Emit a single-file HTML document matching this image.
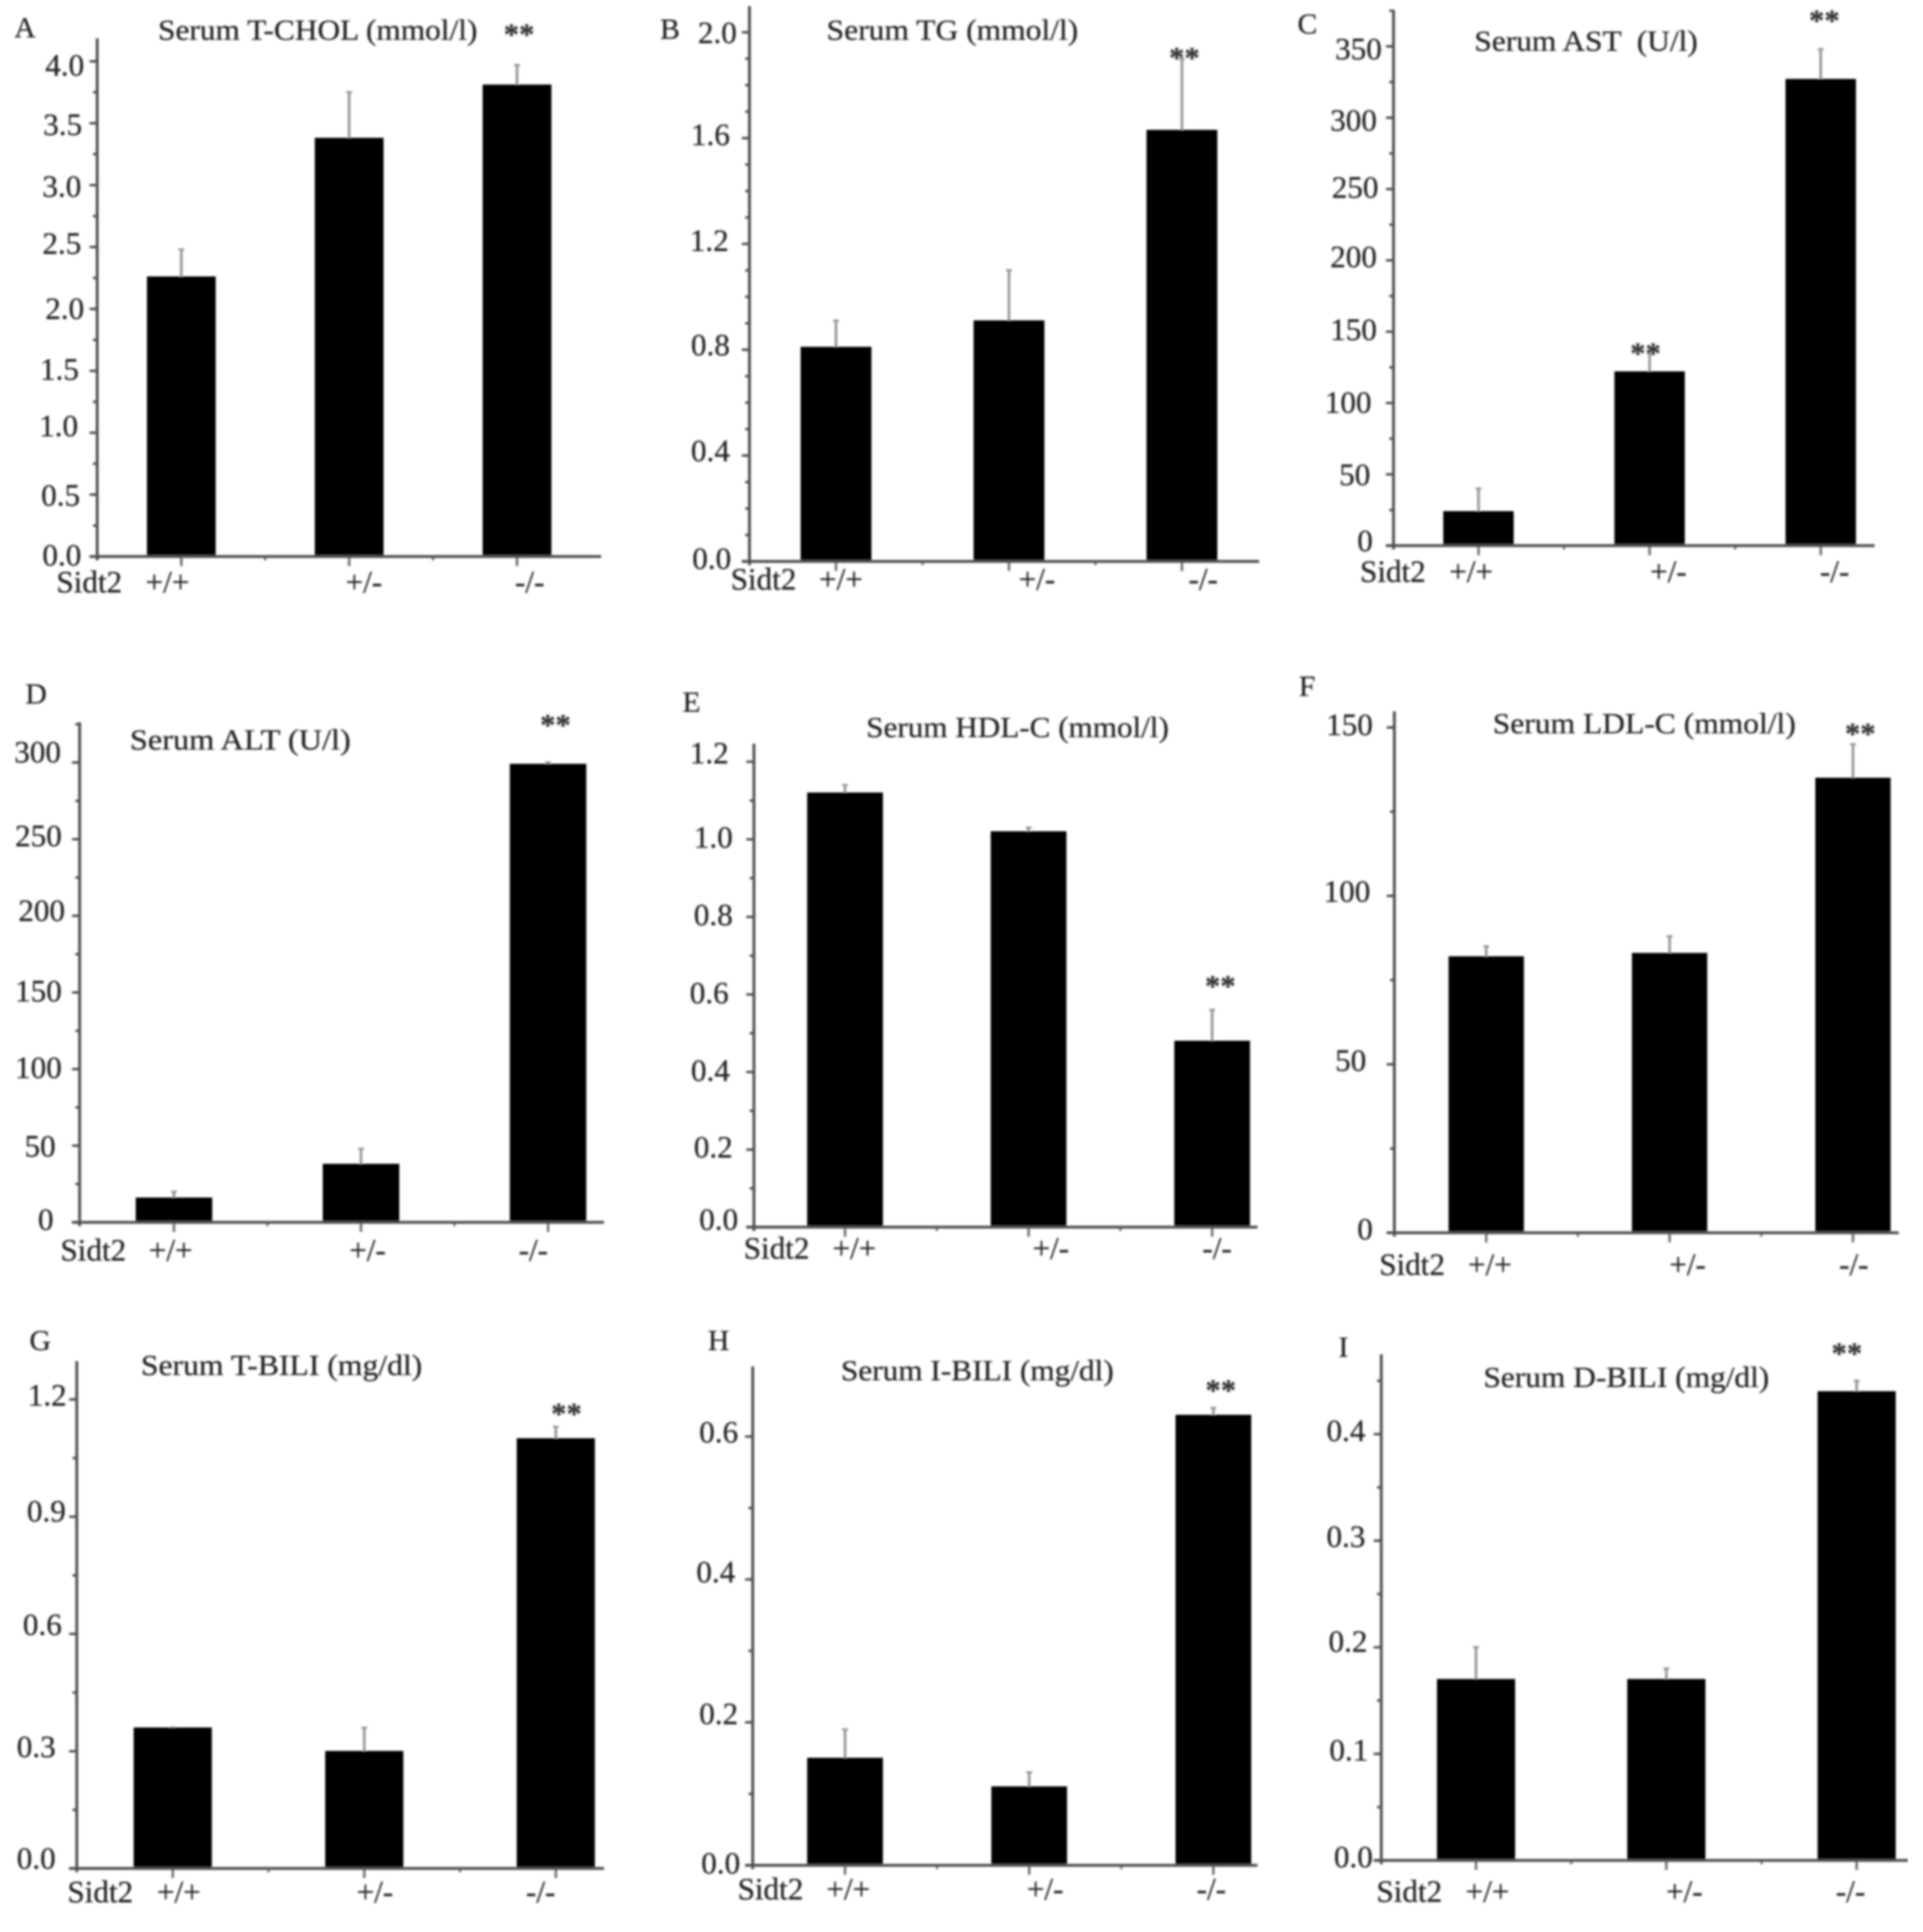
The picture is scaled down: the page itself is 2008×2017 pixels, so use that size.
<!DOCTYPE html>
<html lang="en">
<head>
<meta charset="utf-8">
<title>Serum biochemistry in Sidt2 genotypes</title>
<style>
  html, body { margin: 0; padding: 0; background: #fff; }
  svg { display: block; }
  text { font-family: "Liberation Serif", serif; fill: #242424; stroke: #242424; stroke-width: 0.25px; }
  .title { font-size: 31px; }
  .letter { font-size: 31px; }
  .gene, .cat, .tick-label { font-size: 32.5px; }
  .stars { font-size: 32px; font-weight: bold; fill: #333333; stroke: #333333; }
</style>
</head>
<body>
<svg id="figure" xmlns="http://www.w3.org/2000/svg" width="2008" height="2017" viewBox="0 0 2008 2017">
  <defs>
    <filter id="soft" x="0" y="0" width="100%" height="100%" filterUnits="objectBoundingBox">
      <feGaussianBlur stdDeviation="1"/>
    </filter>
  </defs>
  <rect width="2008" height="2017" fill="#ffffff"/>
  <g filter="url(#soft)">
    <g id="panel-a">
      <text class="letter">A</text>
      <text class="title">Serum T-CHOL (mmol/l)</text>
      <text class="gene">Sidt2</text>
    </g>
    <g id="panel-b">
      <text class="letter">B</text>
      <text class="title">Serum TG (mmol/l)</text>
      <text class="gene">Sidt2</text>
    </g>
    <g id="panel-c">
      <text class="letter">C</text>
      <text class="title">Serum AST &#160;(U/l)</text>
      <text class="gene">Sidt2</text>
    </g>
    <g id="panel-d">
      <text class="letter">D</text>
      <text class="title">Serum ALT (U/l)</text>
      <text class="gene">Sidt2</text>
    </g>
    <g id="panel-e">
      <text class="letter">E</text>
      <text class="title">Serum HDL-C (mmol/l)</text>
      <text class="gene">Sidt2</text>
    </g>
    <g id="panel-f">
      <text class="letter">F</text>
      <text class="title">Serum LDL-C (mmol/l)</text>
      <text class="gene">Sidt2</text>
    </g>
    <g id="panel-g">
      <text class="letter">G</text>
      <text class="title">Serum T-BILI (mg/dl)</text>
      <text class="gene">Sidt2</text>
    </g>
    <g id="panel-h">
      <text class="letter">H</text>
      <text class="title">Serum I-BILI (mg/dl)</text>
      <text class="gene">Sidt2</text>
    </g>
    <g id="panel-i">
      <text class="letter">I</text>
      <text class="title">Serum D-BILI (mg/dl)</text>
      <text class="gene">Sidt2</text>
    </g>
  </g>
</svg>
<script>
// ---- Data ----
const genotypes = ["+/+", "+/-", "-/-"];

const tcholValues = [2.26, 3.38, 3.81];
const tcholErrors = [2.48, 3.75, 3.97];
const tcholTicks = ["0.0", "0.5", "1.0", "1.5", "2.0", "2.5", "3.0", "3.5", "4.0"];

const tgValues = [0.81, 0.91, 1.63];
const tgErrors = [0.91, 1.10, 1.90];
const tgTicks = ["0.0", "0.4", "0.8", "1.2", "1.6", "2.0"];

const astValues = [24, 122, 327];
const astErrors = [40, 135, 348];
const astTicks = ["0", "50", "100", "150", "200", "250", "300", "350"];

const altValues = [16, 38, 299];
const altErrors = [20, 48, 300];
const altTicks = ["0", "50", "100", "150", "200", "250", "300"];

const hdlValues = [1.12, 1.02, 0.48];
const hdlErrors = [1.14, 1.03, 0.56];
const hdlTicks = ["0.0", "0.2", "0.4", "0.6", "0.8", "1.0", "1.2"];

const ldlValues = [82, 83, 135];
const ldlErrors = [85, 88, 145];
const ldlTicks = ["0", "50", "100", "150"];

const tbiliValues = [0.36, 0.30, 1.10];
const tbiliErrors = [0.36, 0.36, 1.13];
const tbiliTicks = ["0.0", "0.3", "0.6", "0.9", "1.2"];

const ibiliValues = [0.15, 0.11, 0.63];
const ibiliErrors = [0.19, 0.13, 0.64];
const ibiliTicks = ["0.0", "0.2", "0.4", "0.6"];

const dbiliValues = [0.17, 0.17, 0.44];
const dbiliErrors = [0.20, 0.18, 0.45];
const dbiliTicks = ["0.0", "0.1", "0.2", "0.3", "0.4"];

// ---- Layout: panel geometry, in units of the measuring grid ----
const KX = 2.345, KY = 2.375;
const panelSpecs = [
  { id: "panel-a", off: [0, 0], values: tcholValues, errors: tcholErrors, ticks: tcholTicks, minor: 0.25,
    axisX: 238, axisTop: 95, xEnd: 1472, y0: 1380, ref: [4.0, 152], c0: 444, step: 411, bw: 167,
    letter: [35, 72], title: [387, 1169, 78], gene: [138, 1447], catX: [410, 891, 1297], catY: 1447,
    nudges: [[-40,0],[-43,5],[-48,-14],[-46,0],[-33,2],[-40,-5],[-40,7],[-38,7],[-33,13]],
    stars: [[2, 5, -87]] },
  { id: "panel-b", off: [670, 0], values: tgValues, errors: tgErrors, ticks: tgTicks, minor: 0.1,
    axisX: 264, axisTop: 15, xEnd: 1512, y0: 1392, ref: [2.0, 80], c0: 476, step: 423.5, bw: 172,
    letter: [45, 75], title: [453, 1069, 78], gene: [218, 1440], catX: [488, 968, 1375], catY: 1440,
    nudges: [[-46,-4],[-49,-8],[-49,-8],[-52,-5],[-49,-5],[-32,5]],
    stars: [[2, 6, -13]] },
  { id: "panel-c", off: [1340, 0], values: astValues, errors: astErrors, ticks: astTicks, minor: 25,
    axisX: 270, axisTop: 25, xEnd: 1448, y0: 1353, ref: [350, 115], c0: 478, step: 419, bw: 171,
    letter: [35, 62], title: [468, 1015, 105], gene: [188, 1420], catX: [460, 943, 1350], catY: 1420,
    nudges: [[-52,-8],[-58,5],[-55,2],[-42,-2],[-42,-5],[-38,-1],[-42,10],[-30,10]],
    stars: [[1, -10, -10], [2, 9, -82]] },
  { id: "panel-d", off: [0, 690], values: altValues, errors: altErrors, ticks: altTicks, minor: 25,
    axisX: 195, axisTop: 152, xEnd: 1479, y0: 1392, ref: [300, 252], c0: 426, step: 458, bw: 186,
    letter: [62, 85], title: [318, 859, 198], gene: [148, 1465], catX: [418, 900, 1306], catY: 1465,
    nudges: [[-65,-4],[-60,5],[-45,0],[-45,0],[-37,-10],[-45,-5],[-47,-22]],
    stars: [[2, 18, -104]] },
  { id: "panel-e", off: [670, 690], values: hdlValues, errors: hdlErrors, ticks: hdlTicks, minor: 0.1,
    axisX: 275, axisTop: 205, xEnd: 1508, y0: 1404, ref: [1.2, 250], c0: 498, step: 449.5, bw: 184,
    letter: [100, 105], title: [550, 1291, 168], gene: [250, 1460], catX: [521, 1002, 1409], catY: 1460,
    nudges: [[-40,-16],[-53,-2],[-60,0],[-63,0],[-53,-2],[-53,-2],[-63,-18]],
    stars: [[2, 20, -70]] },
  { id: "panel-f", off: [1340, 690], values: ldlValues, errors: ldlErrors, ticks: ldlTicks, minor: 25,
    axisX: 272, axisTop: 125, xEnd: 1507, y0: 1418, ref: [150, 165], c0: 497, step: 449, bw: 183,
    letter: [38, 65], title: [513, 1255, 158], gene: [235, 1500], catX: [506, 990, 1397], catY: 1500,
    nudges: [[-54,-6],[-70,-6],[-60,-8],[-54,-3]],
    stars: [[2, 18, -37]] },
  { id: "panel-g", off: [0, 1357], values: tbiliValues, errors: tbiliErrors, ticks: tbiliTicks, minor: 0.15,
    axisX: 188, axisTop: 152, xEnd: 1479, y0: 1410, ref: [1.2, 247], c0: 423, step: 469, bw: 190,
    letter: [72, 103], title: [345, 1034, 165], gene: [165, 1472], catX: [438, 918, 1324], catY: 1472,
    nudges: [[-53,-22],[-53,-8],[-38,-19],[-28,-10],[-26,-7]],
    stars: [[2, 26, -43]] },
  { id: "panel-h", off: [670, 1357], values: ibiliValues, errors: ibiliErrors, ticks: ibiliTicks, minor: 0.1,
    axisX: 272, axisTop: 165, xEnd: 1508, y0: 1402, ref: [0.6, 339], c0: 498, step: 451, bw: 184,
    letter: [162, 103], title: [488, 1156, 178], gene: [235, 1465], catX: [506, 988, 1395], catY: 1465,
    nudges: [[-32,-2],[-37,-18],[-44,-15],[-37,-7]],
    stars: [[2, 18, -55]] },
  { id: "panel-i", off: [1340, 1357], values: dbiliValues, errors: dbiliErrors, ticks: dbiliTicks, minor: 0.05,
    axisX: 240, axisTop: 135, xEnd: 1530, y0: 1390, ref: [0.4, 333], c0: 472, step: 466, bw: 190,
    letter: [135, 120], title: [490, 1190, 195], gene: [228, 1470], catX: [500, 982, 1389], catY: 1470,
    nudges: [[-22,-5],[-33,-6],[-35,-11],[-40,-7],[-40,-5]],
    stars: [[2, -24, -79]] }
];

const SVG_NS = "http://www.w3.org/2000/svg";
const AXIS_COLOR = "#505050";
const ERROR_COLOR = "#989898";
const TEXT_MID = 0.335; // digit/cap mid-height above the baseline, in em
const LABEL_FS = 32.5;
const TITLE_FS = 31;
const TEXT_LIFT = 1.5;  // small upward correction applied to all text

function shape(parent, tag, props) {
  const node = document.createElementNS(SVG_NS, tag);
  for (const key in props) node.setAttribute(key, props[key]);
  parent.appendChild(node);
  return node;
}

function drawPanel(spec) {
  const g = document.getElementById(spec.id);
  const px = function (z) { return spec.off[0] + z / KX; };
  const py = function (z) { return spec.off[1] + z / KY; };
  const base = py(spec.y0);
  const perUnit = (base - py(spec.ref[1])) / spec.ref[0];
  const yScale = function (v) { return base - v * perUnit; };
  const xScale = function (i) { return px(spec.c0 + spec.step * i); };
  const axisX = px(spec.axisX);
  const top = py(spec.axisTop);
  const barWidth = spec.bw / KX;

  // static text placement
  const letter = g.querySelector(".letter");
  letter.setAttribute("x", px(spec.letter[0]));
  letter.setAttribute("y", py(spec.letter[1]) + TITLE_FS * TEXT_MID - TEXT_LIFT);
  const title = g.querySelector(".title");
  title.setAttribute("x", px(spec.title[0]));
  title.setAttribute("y", py(spec.title[2]) + TITLE_FS * TEXT_MID - TEXT_LIFT);
  title.setAttribute("textLength", (spec.title[1] - spec.title[0]) / KX);
  title.setAttribute("lengthAdjust", "spacingAndGlyphs");
  const gene = g.querySelector(".gene");
  gene.setAttribute("x", px(spec.gene[0]));
  gene.setAttribute("y", py(spec.gene[1]) + LABEL_FS * TEXT_MID - TEXT_LIFT);

  // minor y ticks
  const minorCount = Math.floor((base - top) / perUnit / spec.minor + 1e-6);
  for (let k = 1; k <= minorCount; k++) {
    const minorTick = shape(g, "line", { x1: axisX - 4.5, x2: axisX, y1: yScale(k * spec.minor), y2: yScale(k * spec.minor), stroke: AXIS_COLOR, "stroke-width": 2.5 });
    
    
  }

  // major y ticks and labels
  spec.ticks.forEach(function (label, i) {
    const v = Number(label);
    const majorTick = shape(g, "line", { x1: axisX - 8, x2: axisX, y1: yScale(v), y2: yScale(v), stroke: AXIS_COLOR, "stroke-width": 2.5 });
    
    
    const n = spec.nudges[i] || [-40, 0];
    const tickText = shape(g, "text", { class: "tick-label", x: axisX + n[0] / KX + 0.5, y: yScale(v) + n[1] / KY + LABEL_FS * TEXT_MID - TEXT_LIFT, "text-anchor": "end" });
    tickText.textContent = label;
    
    
  });

  // error bars sit behind the bars
  spec.errors.forEach(function (err, i) {
    const errorStem = shape(g, "line", { x1: xScale(i), x2: xScale(i), y1: yScale(spec.values[i]), y2: yScale(err), stroke: ERROR_COLOR, "stroke-width": 2.8 });
    
    
    const errorCap = shape(g, "line", { x1: xScale(i) - 3, x2: xScale(i) + 3, y1: yScale(err), y2: yScale(err), stroke: ERROR_COLOR, "stroke-width": 2.4 });
    
    
  });

  // bars
  spec.values.forEach(function (v, i) {
    const bar = shape(g, "rect", { x: xScale(i) - barWidth / 2, y: yScale(v), width: barWidth, height: base - yScale(v), fill: "#000000", stroke: "#000000", "stroke-width": 0.6 });
    
    
  });

  // x ticks
  genotypes.forEach(function (name, i) {
    const xTick = shape(g, "line", { x1: xScale(i), x2: xScale(i), y1: base, y2: base + 10, stroke: "#707070", "stroke-width": 2.6 });
    
    
    if (i < genotypes.length - 1) {
      const xMinor = shape(g, "line", { x1: xScale(i + 0.5), x2: xScale(i + 0.5), y1: base, y2: base + 4, stroke: "#707070", "stroke-width": 2.4 });
      
      
    }
    const catLabel = shape(g, "text", { class: "cat", x: px(spec.catX[i]), y: py(spec.catY) + LABEL_FS * TEXT_MID - TEXT_LIFT, "text-anchor": "middle" });
    catLabel.textContent = name;
    
    
  });

  // axes
  const yAxis = shape(g, "line", { x1: axisX, x2: axisX, y1: top, y2: base + 4, stroke: AXIS_COLOR, "stroke-width": 3 });
  
  
  const xAxis = shape(g, "line", { x1: axisX - 8, x2: px(spec.xEnd), y1: base, y2: base, stroke: AXIS_COLOR, "stroke-width": 3 });
  
  

  // significance markers follow the error-bar tips
  spec.stars.forEach(function (star) {
    const i = star[0];
    const starText = shape(g, "text", { class: "stars", x: xScale(i) + star[1] / KX, y: yScale(spec.errors[i]) + star[2] / KY + 32 * 0.47, "text-anchor": "middle" });
    starText.textContent = "**";
    
    
  });
}

panelSpecs.forEach(drawPanel);
</script>
</body>
</html>
